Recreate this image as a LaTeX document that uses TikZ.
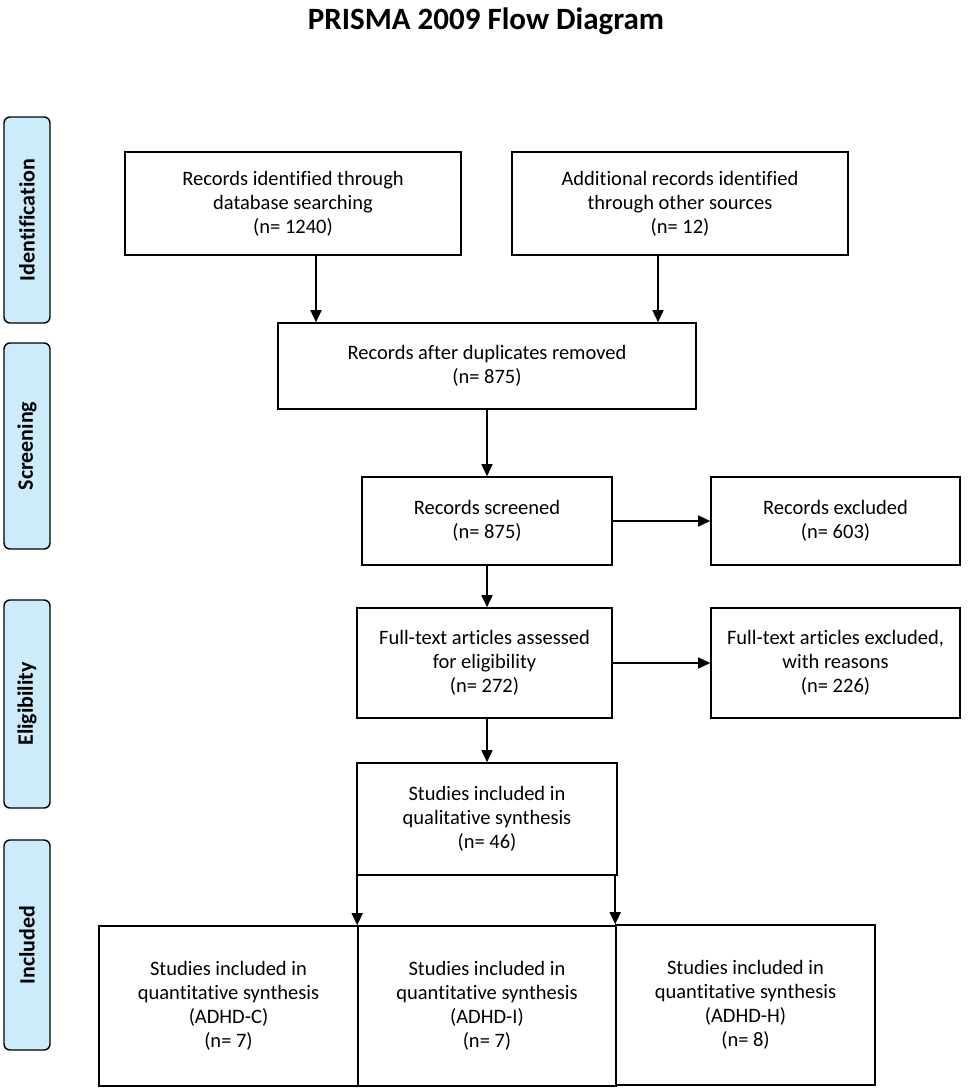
\documentclass[tikz,border=0pt]{standalone}
\usepackage{fontspec}
\setmainfont{Carlito}[Ligatures=NoCommon]
\usetikzlibrary{arrows.meta}
\definecolor{sideblue}{HTML}{CCECFC}
\begin{document}
\begin{tikzpicture}[x=1pt,y=-1pt,
  box/.style={draw=black,line width=1.6pt,fill=white,inner sep=0pt,align=center,
    font=\fontsize{20.5pt}{24pt}\selectfont},
  sidebox/.style={draw=black,line width=1.4pt,fill=sideblue,rounded corners=6pt,
    rotate=90,inner sep=0pt,minimum height=46pt,
    font=\fontsize{22pt}{24pt}\selectfont\bfseries},
  arr/.style={line width=1.6pt,-{Triangle[length=12pt,width=11pt]}}]
\useasboundingbox (0,0) rectangle (972,1092);
\node[font=\fontsize{31pt}{34pt}\selectfont\bfseries] (title) at (486,21) {PRISMA 2009 Flow Diagram};

\node[sidebox,minimum width=206pt] (s1) at (27,220) {Identification};
\node[sidebox,minimum width=206pt] (s2) at (27,446) {Screening};
\node[sidebox,minimum width=208pt] (s3) at (27,704) {Eligibility};
\node[sidebox,minimum width=210pt] (s4) at (27,945) {Included};

\node[box,minimum width=336pt,minimum height=103pt] (b1) at (293,203.5) {Records identified through\\database searching\\(n= 1240)};
\node[box,minimum width=336pt,minimum height=103pt] (b2) at (680,203.5) {Additional records identified\\through other sources\\(n= 12)};
\node[box,minimum width=418pt,minimum height=86pt] (b3) at (487,366) {Records after duplicates removed\\(n= 875)};
\node[box,minimum width=250pt,minimum height=88pt] (b4) at (487,521) {Records screened\\(n= 875)};
\node[box,minimum width=249pt,minimum height=88pt] (b5) at (835.5,521) {Records excluded\\(n= 603)};
\node[box,minimum width=255pt,minimum height=110pt] (b6) at (484.5,663) {Full-text articles assessed\\for eligibility\\(n= 272)};
\node[box,minimum width=249pt,minimum height=110pt] (b7) at (835.5,663) {Full-text articles excluded,\\with reasons\\(n= 226)};
\node[box,minimum width=260pt,minimum height=112pt] (b8) at (487,819) {Studies included in\\qualitative synthesis\\(n= 46)};
\node[box,minimum width=259pt,minimum height=160pt] (b9) at (228.5,1006) {Studies included in\\quantitative synthesis\\(ADHD-C)\\(n= 7)};
\node[box,minimum width=258pt,minimum height=160pt] (b10) at (487,1006) {Studies included in\\quantitative synthesis\\(ADHD-I)\\(n= 7)};
\node[box,minimum width=259pt,minimum height=160pt] (b11) at (745.5,1005) {Studies included in\\quantitative synthesis\\(ADHD-H)\\(n= 8)};

\coordinate (c1) at (316,0);
\coordinate (c2) at (658,0);
\draw[arr] (b1.south -| c1) -- (b3.north -| c1);
\draw[arr] (b2.south -| c2) -- (b3.north -| c2);
\draw[arr] (b3.south -| b4) -- (b4.north);
\draw[arr] (b4.east) -- (b5.west);
\draw[arr] (b4.south) -- (b6.north -| b4);
\draw[arr] (b6.east) -- (b7.west);
\draw[arr] (b6.south -| b8) -- (b8.north);
\draw[arr] (b10.north west |- b8.south) -- (b10.north west);
\draw[arr] (b11.north west |- b8.south) -- (b11.north west);
\end{tikzpicture}
\end{document}
